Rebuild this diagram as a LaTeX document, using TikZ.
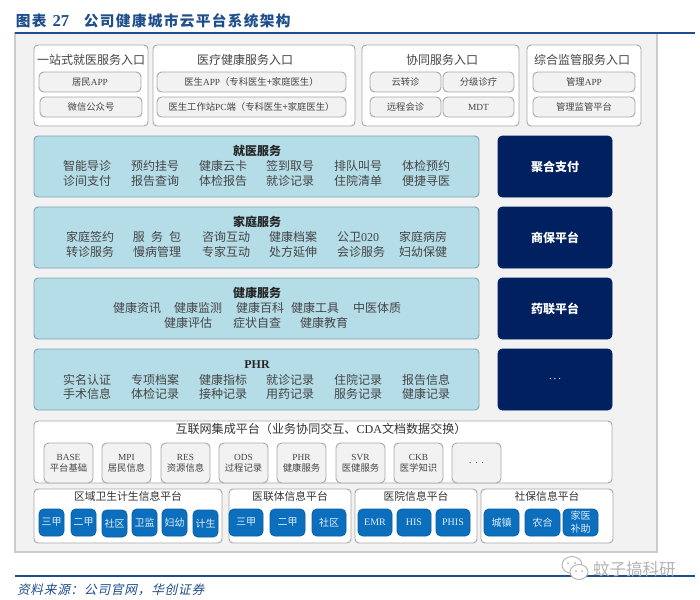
\documentclass[tikz,border=0pt]{standalone}
\usepackage{fontspec}
\setmainfont{Noto Sans CJK SC}
\newfontfamily\lat{Liberation Serif}
\newfontfamily\titlefont[LetterSpace=9]{Noto Sans CJK SC}
\newfontfamily\srcfont[LetterSpace=6,FakeSlant=0.22]{Noto Sans CJK SC}
\definecolor{ttl}{HTML}{1F4E8C}
\definecolor{txt}{HTML}{444444}
\definecolor{edgeg}{HTML}{A8A8A8}
\definecolor{panel}{HTML}{F2F2F2}
\definecolor{teal}{HTML}{B5DDE8}
\definecolor{tealedge}{HTML}{7FA5B2}
\definecolor{navy}{HTML}{00205F}
\definecolor{btn}{HTML}{0B6FBE}
\definecolor{wmgrey}{HTML}{B4B4B4}
\definecolor{paneledge}{HTML}{CBCBCB}
\tikzset{
 x=0.75pt,y=-0.75pt,
 every node/.style={inner sep=0pt,outer sep=0pt,text=txt,font=\fontsize{7pt}{11pt}\selectfont,align=center},
 panelbox/.style={draw=paneledge,fill=panel,line width=0.8pt},
 groupbox/.style={draw=edgeg,fill=white,rounded corners=3pt,line width=0.7pt},
 itembox/.style={draw=edgeg,fill=panel,rounded corners=3.5pt,line width=0.7pt},
 tealbox/.style={draw=tealedge,fill=teal,rounded corners=3pt,line width=0.7pt},
 navybox/.style={draw=navy,fill=navy,rounded corners=3pt,text=white,font=\fontsize{9pt}{11pt}\selectfont\bfseries},
 btnbox/.style={draw=btn!85!black,fill=btn,rounded corners=3.5pt,text=white!88!btn,line width=0.5pt,font=\fontsize{7.5pt}{9.5pt}\selectfont},
 headtxt/.style={font=\fontsize{9pt}{11pt}\selectfont,text=txt},
 lowhead/.style={font=\fontsize{8.1pt}{10pt}\selectfont,text=black!80},
 boldtxt/.style={font=\fontsize{9pt}{11pt}\selectfont\bfseries,text=black!85},
 linktxt/.style={font=\fontsize{9.05pt}{11pt}\selectfont,text=black!80},
 cell/.style={font=\fontsize{9pt}{11pt}\selectfont,text=txt},
 cardtxt/.style={font=\fontsize{7pt}{8.4pt}\selectfont,text=txt},
 rulel/.style={draw=ttl,line width=1pt}
}
\newcommand\bx[7]{\node[#2,minimum width={(#5-#3)*0.75pt},minimum height={(#6-#4)*0.75pt}] (#1) at ({(#3+#5)/2},{(#4+#6)/2}) {#7};}
\newcommand\txt[5]{\node[#2] (#1) at (#3,#4) {#5};}
\begin{document}
\begin{tikzpicture}
\useasboundingbox (0,0) rectangle (700,600);
\fill[white] (0,0) rectangle (700,600);
\bx{panelbg}{panelbox}{15}{33}{657}{552}{}
\draw[rulel] (15,33) -- (695,33);
\draw[rulel] (15,576) -- (695,576);
\node[anchor=west,text=ttl,font=\fontsize{11pt}{13pt}\titlefont\bfseries] (title) at (16,21) {图表\hspace{4.5pt}{\fontsize{12.5pt}{13pt}\lat\bfseries 27}\hspace{11pt}公司健康城市云平台系统架构};
\node[anchor=west,text=ttl,font=\fontsize{9.5pt}{12pt}\srcfont] (source) at (17,590) {资料来源：公司官网，华创证券};

% entrances
\bx{g1}{groupbox}{34}{45}{148}{126}{}
\txt{g1t}{headtxt}{91}{60}{一站式就医服务入口}
\bx{g1a}{itembox}{39}{72}{141}{92}{居民{\lat APP}}
\bx{g1b}{itembox}{40}{97}{142}{117}{微信公众号}
\bx{g2}{groupbox}{153}{45}{355}{126}{}
\txt{g2t}{headtxt}{245}{60}{医疗健康服务入口}
\bx{g2a}{itembox}{157}{72}{346}{92}{医生{\lat APP}（专科医生+家庭医生）}
\bx{g2b}{itembox}{157}{97}{346}{117}{医生工作站{\lat PC}端（专科医生+家庭医生）}
\bx{g3}{groupbox}{362}{45}{519}{126}{}
\txt{g3t}{headtxt}{442}{60}{协同服务入口}
\bx{g3a}{itembox}{370}{72}{441}{92}{云转诊}
\bx{g3b}{itembox}{443}{72}{514}{92}{分级诊疗}
\bx{g3c}{itembox}{370}{97}{441}{117}{远程会诊}
\bx{g3d}{itembox}{443}{97}{514}{117}{{\lat MDT}}
\bx{g4}{groupbox}{527}{45}{641}{126}{}
\txt{g4t}{headtxt}{582}{60}{综合监管服务入口}
\bx{g4a}{itembox}{533}{72}{635}{92}{管理{\lat APP}}
\bx{g4b}{itembox}{533}{97}{635}{117}{管理监管平台}

% teal rows
\bx{s1}{tealbox}{34}{136}{479}{197}{}
\txt{s1t}{boldtxt}{257}{151}{就医服务}
\txt{s1a}{cell}{87}{166}{智能导诊} \txt{s1b}{cell}{155}{166}{预约挂号} \txt{s1c}{cell}{223}{166}{健康云卡}
\txt{s1d}{cell}{290}{166}{签到取号} \txt{s1e}{cell}{358}{166}{排队叫号} \txt{s1f}{cell}{426}{166}{体检预约}
\txt{s1g}{cell}{87}{181}{诊间支付} \txt{s1h}{cell}{155}{181}{报告查询} \txt{s1i}{cell}{223}{181}{体检报告}
\txt{s1j}{cell}{290}{181}{就诊记录} \txt{s1k}{cell}{358}{181}{住院清单} \txt{s1l}{cell}{426}{181}{便捷寻医}

\bx{s2}{tealbox}{34}{207}{479}{268}{}
\txt{s2t}{boldtxt}{257}{222}{家庭服务}
\txt{s2a}{cell}{90}{237}{家庭签约} \txt{s2b}{cell}{157}{237}{服\hspace{4.6pt}务\hspace{4.6pt}包} \txt{s2c}{cell}{226}{237}{咨询互动}
\txt{s2d}{cell}{293}{237}{健康档案} \txt{s2e}{cell}{358}{237}{公卫{\lat 020}} \txt{s2f}{cell}{423}{237}{家庭病房}
\txt{s2g}{cell}{90}{252}{转诊服务} \txt{s2h}{cell}{157}{252}{慢病管理} \txt{s2i}{cell}{226}{252}{专家互动}
\txt{s2j}{cell}{293}{252}{处方延伸} \txt{s2k}{cell}{361}{252}{会诊服务} \txt{s2l}{cell}{423}{252}{妇幼保健}

\bx{s3}{tealbox}{34}{278}{479}{339}{}
\txt{s3t}{boldtxt}{257}{293}{健康服务}
\txt{s3a}{cell}{137}{308}{健康资讯} \txt{s3b}{cell}{198}{308}{健康监测} \txt{s3c}{cell}{260}{308}{健康百科}
\txt{s3d}{cell}{315}{308}{健康工具} \txt{s3e}{cell}{377}{308}{中医体质}
\txt{s3f}{cell}{188}{323}{健康评估} \txt{s3g}{cell}{257}{323}{症状自查} \txt{s3h}{cell}{324}{323}{健康教育}

\bx{s4}{tealbox}{34}{349}{479}{410}{}
\txt{s4t}{boldtxt}{257}{365}{{\lat\bfseries PHR}}
\txt{s4a}{cell}{87}{380}{实名认证} \txt{s4b}{cell}{155}{380}{专项档案} \txt{s4c}{cell}{223}{380}{健康指标}
\txt{s4d}{cell}{290}{380}{就诊记录} \txt{s4e}{cell}{358}{380}{住院记录} \txt{s4f}{cell}{426}{380}{报告信息}
\txt{s4g}{cell}{87}{394}{手术信息} \txt{s4h}{cell}{155}{394}{体检记录} \txt{s4i}{cell}{223}{394}{接种记录}
\txt{s4j}{cell}{290}{394}{用药记录} \txt{s4k}{cell}{358}{394}{服务记录} \txt{s4l}{cell}{426}{394}{健康记录}

% navy
\bx{n1}{navybox}{498}{136}{612}{197}{聚合支付}
\bx{n2}{navybox}{498}{207}{612}{268}{商保平台}
\bx{n3}{navybox}{498}{278}{612}{339}{药联平台}
\bx{n4}{navybox}{498}{349}{612}{410}{{\mdseries\lat\fontsize{8pt}{10pt}\selectfont .\hspace{1.5pt}.\hspace{1.5pt}.}}

% integration
\bx{i0}{groupbox}{34}{421}{612}{483}{}
\txt{i0t}{linktxt}{321}{429}{互联网集成平台（业务协同交互、{\lat CDA}文档数据交换）}
\bx{c1}{itembox,cardtxt}{44}{443}{93}{483}{{\lat BASE}\\平台基础}
\bx{c2}{itembox,cardtxt}{102}{443}{151}{483}{{\lat MPI}\\居民信息}
\bx{c3}{itembox,cardtxt}{161}{443}{210}{483}{{\lat RES}\\资源信息}
\bx{c4}{itembox,cardtxt}{219}{443}{268}{483}{{\lat ODS}\\过程记录}
\bx{c5}{itembox,cardtxt}{277}{443}{326}{483}{{\lat PHR}\\健康服务}
\bx{c6}{itembox,cardtxt}{336}{443}{385}{483}{{\lat SVR}\\医健服务}
\bx{c7}{itembox,cardtxt}{394}{443}{443}{483}{{\lat CKB}\\医学知识}
\bx{c8}{itembox,cardtxt}{452}{443}{501}{483}{{\lat .\hspace{3pt}.\hspace{3pt}.}}

% lower platforms
\bx{a0}{groupbox}{34}{489}{222}{543}{}
\txt{a0t}{lowhead}{128}{496}{区域卫生计生信息平台}
\bx{a1}{btnbox}{39}{509}{64}{536}{三甲}
\bx{a2}{btnbox}{71}{509}{96}{536}{二甲}
\bx{a3}{btnbox}{102}{510}{127}{537}{社区}
\bx{a4}{btnbox}{132}{509}{157}{536}{卫监}
\bx{a5}{btnbox}{162}{509}{187}{536}{妇幼}
\bx{a6}{btnbox}{193}{510}{218}{537}{计生}
\bx{b0}{groupbox}{229}{489}{351}{543}{}
\txt{b0t}{lowhead}{290}{496}{医联体信息平台}
\bx{b1}{btnbox}{229}{509}{263}{536}{三甲}
\bx{b2}{btnbox}{270}{509}{305}{536}{二甲}
\bx{b3}{btnbox}{312}{509}{346}{536}{社区}
\bx{d0}{groupbox}{355}{489}{477}{543}{}
\txt{d0t}{lowhead}{416}{496}{医院信息平台}
\bx{d1}{btnbox}{358}{509}{392}{536}{{\lat EMR}}
\bx{d2}{btnbox}{397}{509}{431}{536}{{\lat HIS}}
\bx{d3}{btnbox}{436}{509}{470}{536}{{\lat PHIS}}
\bx{e0}{groupbox}{481}{489}{613}{543}{}
\txt{e0t}{lowhead}{547}{496}{社保信息平台}
\bx{e1}{btnbox}{484}{509}{519}{536}{城镇}
\bx{e2}{btnbox}{525}{509}{560}{536}{农合}
\bx{e3}{btnbox}{563}{509}{598}{536}{家医\\补助}

% watermark
\draw[wmgrey,line width=0.7pt,fill=white] (572,565) ellipse (10 and 8.5);
\draw[wmgrey,line width=0.7pt,fill=white] (579,572) ellipse (9 and 7.5);
\fill[wmgrey] (568,563) circle (1) (575,563) circle (1) (576,571) circle (1) (582,571) circle (1);
\node[anchor=west,text=wmgrey,font=\fontsize{12.4pt}{14pt}\selectfont] (wm) at (593,569) {蚊子搞科研};
\end{tikzpicture}
\end{document}
